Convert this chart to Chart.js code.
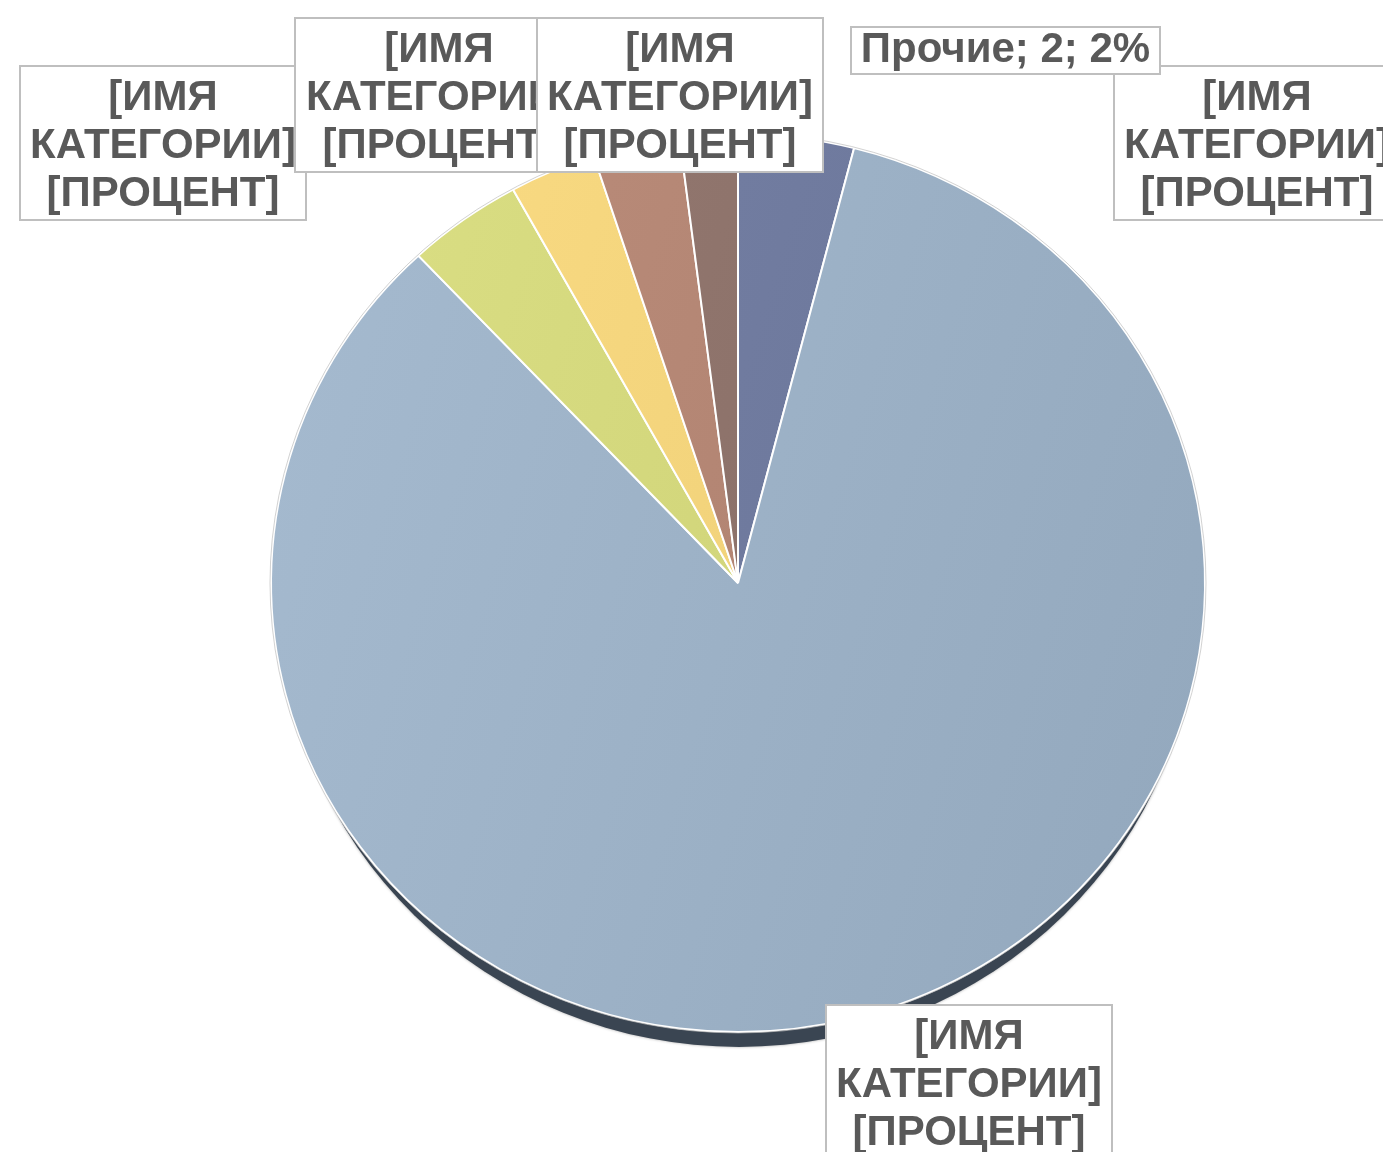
<!DOCTYPE html>
<html>
<head>
<meta charset="utf-8">
<script src="https://cdn.jsdelivr.net/npm/chart.js@4/dist/chart.umd.min.js"></script>
<style>
  html, body { margin: 0; padding: 0; background: #ffffff; }
  #wrap { width: 1383px; height: 1152px; position: relative; }
</style>
</head>
<body>
<div id="wrap"><canvas id="pieChart"></canvas></div>
<script>
// data, clockwise from 12 o'clock
const categories = ['[ИМЯ КАТЕГОРИИ] 1', '[ИМЯ КАТЕГОРИИ] 2', '[ИМЯ КАТЕГОРИИ] 3', '[ИМЯ КАТЕГОРИИ] 4', '[ИМЯ КАТЕГОРИИ] 5', 'Прочие'];
const values = [4, 84, 4, 3, 3, 2];
const labelLines = [
    ['[ИМЯ', 'КАТЕГОРИИ]', '[ПРОЦЕНТ]'],
    ['[ИМЯ', 'КАТЕГОРИИ]', '[ПРОЦЕНТ]'],
    ['[ИМЯ', 'КАТЕГОРИИ]', '[ПРОЦЕНТ]'],
    ['[ИМЯ', 'КАТЕГОРИИ]', '[ПРОЦЕНТ]'],
    ['[ИМЯ', 'КАТЕГОРИИ]', '[ПРОЦЕНТ]'],
    ['Прочие; 2; 2%']
];
const sliceColors = ['#6f7a9e', '#9cb1c6', '#d2d67b', '#f2d37b', '#b38573', '#8d726a'];

// label boxes (Excel placed them by hand), in canvas px
const labelBoxes = [
    {x: 1114, y: 66, w: 286, h: 154},
    {x: 826, y: 1005, w: 286, h: 154},
    {x: 20, y: 66, w: 286, h: 154},
    {x: 295, y: 18, w: 288, h: 154},
    {x: 537, y: 18, w: 286, h: 154},
    {x: 851, y: 27, w: 309, h: 47}
];

// the pie is seen slightly tilted: squash it vertically
const tilt = 449 / 467;

function shade(hex, amt){
    const n = parseInt(hex.slice(1), 16);
    const c = [(n >> 16) & 255, (n >> 8) & 255, n & 255].map(v => Math.max(0, Math.min(255, v + amt)));
    return 'rgb(' + c.join(',') + ')';
}

function sliceFill(context){
    const base = sliceColors[context.dataIndex];
    const chart = context.chart;
    const area = chart.chartArea;
    if(!area) return base;
    const cx = (area.left + area.right) / 2;
    const cy = (area.top + area.bottom) / 2;
    const r = Math.min(area.width, area.height) / 2;
    const g = chart.ctx.createLinearGradient(cx - r, cy - r * 0.3, cx + r, cy + r * 0.3);
    g.addColorStop(0, shade(base, 8));
    g.addColorStop(1, shade(base, -8));
    return g;
}

const tiltedPie = {
    id: 'tiltedPie',
    beforeDatasetsDraw(chart){
        const arc = chart.getDatasetMeta(0).data[0];
        if(!arc) return;
        const ctx = chart.ctx;
        const r = arc.outerRadius;
        // shadow under the pie
        ctx.save();
        ctx.fillStyle = '#3a4552';
        ctx.shadowColor = 'rgba(0,0,0,0.35)';
        ctx.shadowBlur = 3;
        ctx.beginPath();
        ctx.ellipse(arc.x + 1, arc.y + 15, r - 8, r * tilt, 0, 0, Math.PI * 2);
        ctx.fill();
        ctx.restore();
        // squash everything the datasets draw
        ctx.save();
        ctx.translate(0, arc.y);
        ctx.scale(1, tilt);
        ctx.translate(0, -arc.y);
    },
    afterDatasetsDraw(chart){
        const arc = chart.getDatasetMeta(0).data[0];
        if(!arc) return;
        const ctx = chart.ctx;
        ctx.beginPath();
        ctx.arc(arc.x, arc.y, arc.outerRadius + 1, 0, Math.PI * 2);
        ctx.strokeStyle = 'rgba(190,190,190,0.7)';
        ctx.lineWidth = 1;
        ctx.stroke();
        ctx.restore();
    }
};

const boxLabels = {
    id: 'boxLabels',
    afterDraw(chart){
        const ctx = chart.ctx;
        ctx.save();
        ctx.font = 'bold 42px "Liberation Sans", Arial, sans-serif';
        ctx.textAlign = 'center';
        ctx.textBaseline = 'middle';
        labelBoxes.forEach((b, i) => {
            ctx.fillStyle = '#ffffff';
            ctx.fillRect(b.x, b.y, b.w, b.h);
            ctx.strokeStyle = '#bfbfbf';
            ctx.lineWidth = 2;
            ctx.strokeRect(b.x, b.y, b.w, b.h);
            const lines = labelLines[i];
            const mid = b.y + b.h / 2 + (lines.length > 1 ? 3 : 0);
            ctx.fillStyle = '#595959';
            lines.forEach((t, j) => {
                ctx.fillText(t, b.x + b.w / 2, mid + (j - (lines.length - 1) / 2) * 48);
            });
        });
        ctx.restore();
    }
};

const pieChart = new Chart(document.getElementById('pieChart'), {
    type: 'pie',
    data: {
        labels: categories,
        datasets: [{
            data: values,
            backgroundColor: sliceFill,
            borderColor: '#ffffff',
            borderWidth: 2
        }]
    },
    options: {
        responsive: true,
        maintainAspectRatio: false,
        animation: false,
        layout: {padding: {left: 200, right: 107, top: 115, bottom: 101}},
        plugins: {
            legend: {display: false},
            tooltip: {enabled: false}
        }
    },
    plugins: [tiltedPie, boxLabels]
});
</script>
</body>
</html>
